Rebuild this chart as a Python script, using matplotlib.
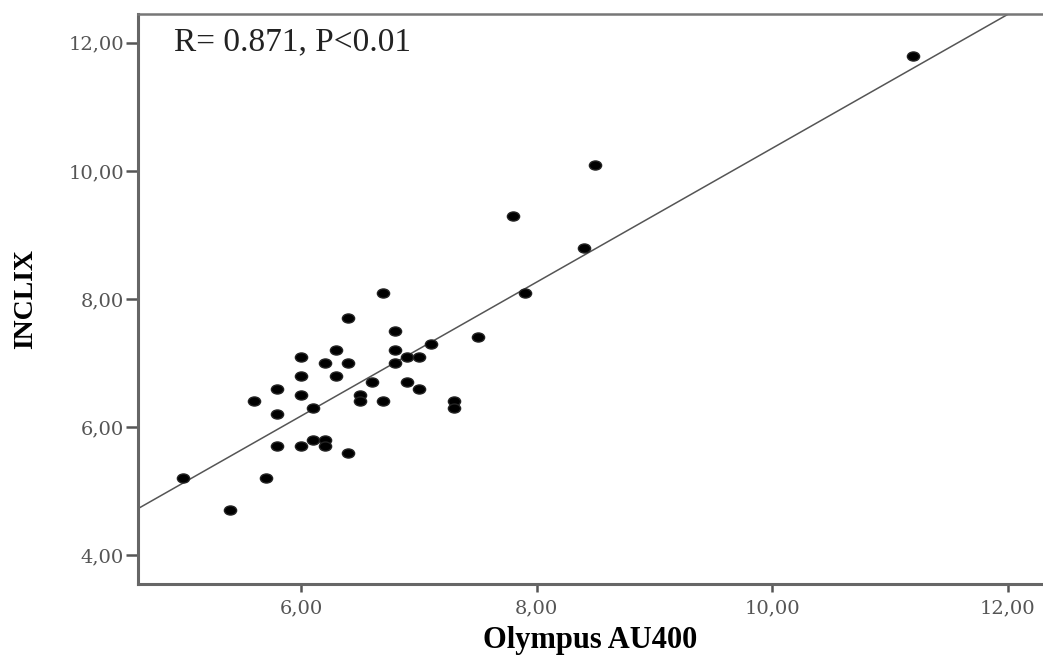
import numpy as np
import matplotlib.pyplot as plt
from matplotlib.path import Path
from matplotlib.transforms import Affine2D
from matplotlib.ticker import FuncFormatter

# Olympus AU400 vs INCLIX readings
olympus = [5.0, 5.4, 5.6, 5.7, 5.8, 5.8, 5.8, 6.0, 6.0, 6.0, 6.0, 6.1, 6.1,
           6.2, 6.2, 6.2, 6.3, 6.3, 6.4, 6.4, 6.4, 6.5, 6.5, 6.6, 6.7, 6.7,
           6.8, 6.8, 6.8, 6.9, 6.9, 7.0, 7.0, 7.1, 7.3, 7.3, 7.5, 7.8, 7.9,
           8.4, 8.5, 11.2]
inclix = [5.2, 4.7, 6.4, 5.2, 6.6, 6.2, 5.7, 7.1, 6.8, 6.5, 5.7, 6.3, 5.8,
          5.8, 5.7, 7.0, 7.2, 6.8, 7.7, 7.0, 5.6, 6.5, 6.4, 6.7, 8.1, 6.4,
          7.5, 7.2, 7.0, 7.1, 6.7, 7.1, 6.6, 7.3, 6.4, 6.3, 7.4, 9.3, 8.1,
          8.8, 10.1, 11.8]
xticks = [6, 8, 10, 12]
yticks = [4, 6, 8, 10, 12]
annotation = "R= 0.871, P<0.01"

# fit line as drawn in the original
fit_slope = 1.045
fit_intercept = -0.097

fig = plt.figure(figsize=(10.43, 6.59), dpi=100)
ax = fig.add_axes([138 / 1043, 75 / 659, 905 / 1043, 570 / 659])

# slightly flattened dots, as in the original export
dot = Path.unit_circle().transformed(Affine2D().scale(1.35, 1.0))
ax.plot(olympus, inclix, linestyle="none", marker=dot, markersize=8.8,
        color="black", markeredgecolor="#222222", zorder=3)

xs = np.array([4.0, 13.0])
ax.plot(xs, fit_slope * xs + fit_intercept, color="#555555", linewidth=1.1,
        zorder=2)

ax.set_xlim(4.616, 12.3)
ax.set_ylim(3.55, 12.45)
ax.set_xticks(xticks)
ax.set_yticks(yticks)
fmt = FuncFormatter(lambda v, p: f"{v:.2f}".replace(".", ","))
ax.xaxis.set_major_formatter(fmt)
ax.yaxis.set_major_formatter(fmt)

for lab in ax.get_xticklabels() + ax.get_yticklabels():
    lab.set_family("DejaVu Serif")
    lab.set_fontsize(14)
    lab.set_color("#555555")
ax.tick_params(axis="both", direction="out", width=1.8, color="#555555")
ax.tick_params(axis="x", length=6, pad=5)
ax.tick_params(axis="y", length=9, pad=1)

ax.spines["right"].set_visible(False)
for side in ["left", "bottom"]:
    ax.spines[side].set_color("#666666")
    ax.spines[side].set_linewidth(2.2)
ax.spines["top"].set_color("#777777")
ax.spines["top"].set_linewidth(1.8)

ax.set_xlabel("Olympus AU400", family="Liberation Serif", fontsize=22,
              fontweight="bold", labelpad=6)
ax.set_ylabel("INCLIX", family="Liberation Serif", fontsize=20,
              fontweight="bold", labelpad=22)

ax.text(0.04, 0.95, annotation, transform=ax.transAxes, family="Liberation Serif",
        fontsize=24, va="center", ha="left", color="#222222")

fig.savefig("out.png", dpi=100)
